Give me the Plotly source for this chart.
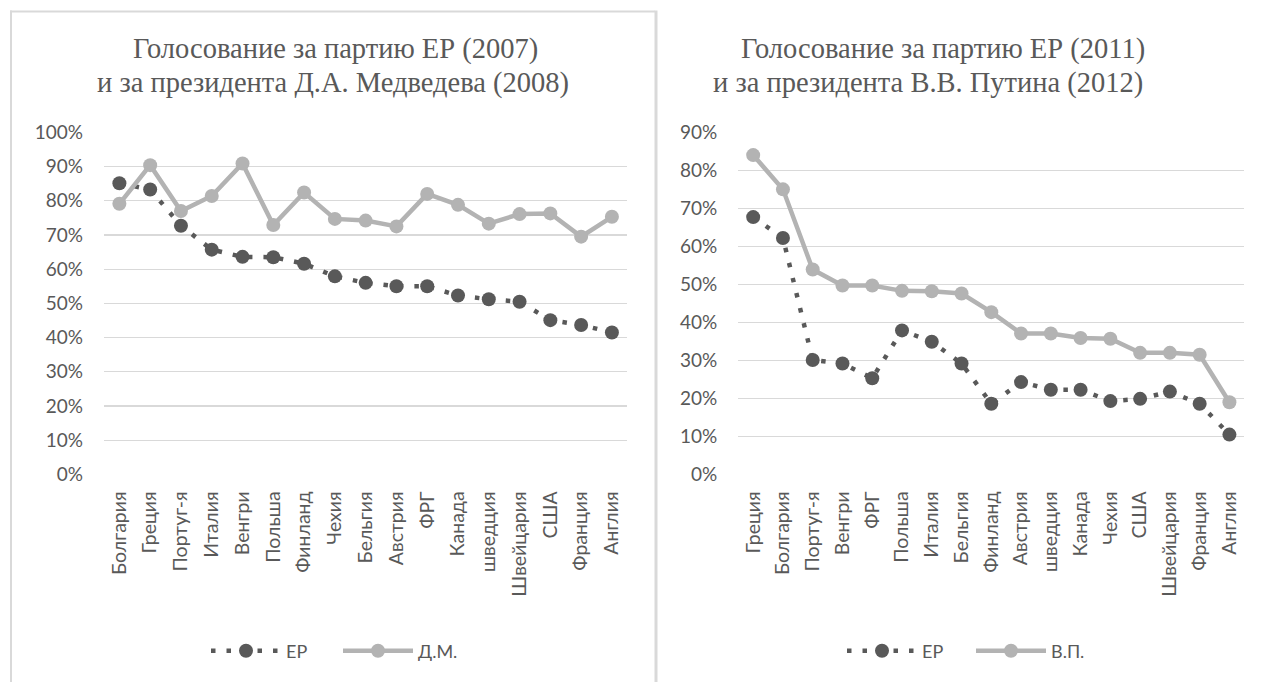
import plotly.graph_objects as go

W, H = 1262, 682

# ---- data ----
left_countries = ["Болгария", "Греция", "Португ-я", "Италия", "Венгри", "Польша", "Финланд",
                  "Чехия", "Бельгия", "Австрия", "ФРГ", "Канада", "шведция", "Швейцария",
                  "США", "Франция", "Англия"]
left_ep = [85.1, 83.3, 72.7, 65.7, 63.6, 63.5, 61.6, 57.9, 56.0, 55.0, 55.0, 52.3, 51.2, 50.5,
           45.1, 43.7, 41.5]
left_dm = [79.1, 90.4, 77.0, 81.4, 90.9, 72.9, 82.4, 74.7, 74.2, 72.5, 82.0, 78.8, 73.3, 76.1,
           76.3, 69.5, 75.3]

right_countries = ["Греция", "Болгария", "Португ-я", "Венгри", "ФРГ", "Польша", "Италия",
                   "Бельгия", "Финланд", "Австрия", "шведция", "Канада", "Чехия", "США",
                   "Швейцария", "Франция", "Англия"]
right_ep = [67.7, 62.2, 30.1, 29.2, 25.3, 37.9, 34.9, 29.2, 18.6, 24.3, 22.3, 22.3, 19.3, 19.9,
            21.8, 18.6, 10.5]
right_vp = [84.0, 75.0, 53.9, 49.7, 49.7, 48.3, 48.2, 47.6, 42.7, 37.1, 37.1, 35.9, 35.7, 32.0,
            32.0, 31.5, 19.0]

left_title_lines = ["Голосование за партию ЕР (2007)", "и за президента Д.А. Медведева (2008)"]
right_title_lines = ["Голосование за партию ЕР (2011)", "и за президента В.В. Путина (2012)"]
left_yticks = list(range(0, 101, 10))
right_yticks = list(range(0, 91, 10))

# ---- style ----
DARK = "#595959"
LIGHT = "#b3b3b3"
GRID = "#d9d9d9"
TXT = "#595959"
SANS = "Lato, 'Open Sans', sans-serif"
SERIF = "'Liberation Serif', 'Times New Roman', serif"

def px(x):
    return x / W

def py(y):
    return 1 - y / H

fig = go.Figure()

def add_pair(xs, ep, other, other_name, xa, ya, legend):
    fig.add_trace(go.Scatter(
        x=xs, y=[v / 100 for v in ep], name="ЕР", mode="lines+markers",
        xaxis=xa, yaxis=ya, legend=legend,
        line=dict(color=DARK, width=4.5, dash="4.5px,11px"),
        marker=dict(color=DARK, size=14, line=dict(width=0)),
        hoverinfo="skip"))
    fig.add_trace(go.Scatter(
        x=xs, y=[v / 100 for v in other], name=other_name, mode="lines+markers",
        xaxis=xa, yaxis=ya, legend=legend,
        line=dict(color=LIGHT, width=4.5),
        marker=dict(color=LIGHT, size=14, line=dict(width=0)),
        hoverinfo="skip"))

add_pair(left_countries, left_ep, left_dm, "Д.М.", "x", "y", "legend")
add_pair(right_countries, right_ep, right_vp, "В.П.", "x2", "y2", "legend2")

y0 = py(474.5)
y1 = py(132.3)

xcommon = dict(type="category", showgrid=False, showline=False, zeroline=False, ticks="",
               tickangle=-90, tickfont=dict(family=SANS, size=19.5, color=TXT),
               ticklabelstandoff=12, fixedrange=True, automargin=False)
ycommon = dict(showgrid=True, gridcolor=GRID, gridwidth=1.3, showline=False, zeroline=False,
               ticks="", tickformat=".0%", tickfont=dict(family=SANS, size=19, color=TXT),
               ticklabelstandoff=20, fixedrange=True, automargin=False)

legcommon = dict(orientation="h", xanchor="left", yanchor="middle", itemwidth=70,
                 entrywidthmode="pixels",
                 font=dict(family=SANS, size=18, color=TXT),
                 bgcolor="rgba(0,0,0,0)", itemclick=False, itemdoubleclick=False)

def title_ann(text, x, ybase):
    return dict(text=text, x=px(x), y=py(ybase), xref="paper", yref="paper",
                xanchor="center", yanchor="middle", showarrow=False,
                font=dict(family=SERIF, size=28.5, color=TXT))

fig.update_layout(
    width=W, height=H,
    margin=dict(l=0, r=0, t=0, b=0, autoexpand=False),
    paper_bgcolor="white", plot_bgcolor="white",
    xaxis=dict(domain=[px(104), px(627.3)], anchor="y", range=[-0.5, 16.5], **xcommon),
    yaxis=dict(domain=[y0, y1], anchor="x", range=[0, 1.0],
               tickvals=[v / 100 for v in left_yticks], **ycommon),
    xaxis2=dict(domain=[px(738.3), px(1244.3)], anchor="y2", range=[-0.5, 16.5], **xcommon),
    yaxis2=dict(domain=[y0, y1], anchor="x2", range=[0, 0.9],
                tickvals=[v / 100 for v in right_yticks], **ycommon),
    legend=dict(x=px(206), y=py(651), entrywidth=47, **legcommon),
    legend2=dict(x=px(842), y=py(651), entrywidth=44, **legcommon),
    showlegend=True,
    annotations=[
        title_ann(left_title_lines[0], 335, 49),
        title_ann(left_title_lines[1], 333, 83),
        title_ann(right_title_lines[0], 943, 49),
        title_ann(right_title_lines[1], 928, 83),
    ],
    shapes=[
        dict(type="line", xref="paper", yref="paper", x0=px(10), x1=px(655), y0=py(11.5), y1=py(11.5),
             line=dict(color=GRID, width=2)),
        dict(type="line", xref="paper", yref="paper", x0=px(11), x1=px(11), y0=py(10.5), y1=0,
             line=dict(color=GRID, width=2)),
        dict(type="line", xref="paper", yref="paper", x0=px(656), x1=px(656), y0=py(10.5), y1=0,
             line=dict(color=GRID, width=3)),
    ],
)

fig.write_html("out.html", config={"displayModeBar": False, "staticPlot": True},
               post_script="document.body.style.margin='0';document.body.style.padding='0';")
